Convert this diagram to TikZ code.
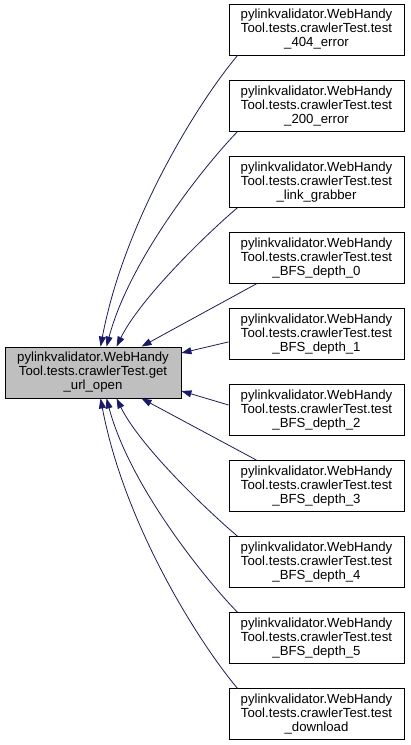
\documentclass[tikz,border=0pt]{standalone}
\usepackage{fontspec}
\setmainfont{Liberation Sans}
\usetikzlibrary{arrows.meta,positioning}
\definecolor{callcolor}{RGB}{25,25,112}
\definecolor{boxgray}{RGB}{191,191,191}

\begin{document}
\begin{tikzpicture}[
			x=1pt,y=1pt,
			testbox/.style={
				draw=black,
				line width=0.9pt,
				fill=white,
				align=center,
				minimum width=175pt,
				minimum height=51pt,
				inner sep=0pt,
				font=\fontsize{13.2}{14}\selectfont
			},
			callarrow/.style={
				-{Triangle[length=10pt,width=7pt]},
				draw=callcolor,
				color=callcolor,
				line width=0.8pt
			}
			]
			\useasboundingbox (0,0) rectangle (411,-745);
			
			% Called function
			\node[testbox,fill=boxgray,minimum width=176pt] (geturl) at (93,-372.5) {
				pylinkvalidator.WebHandy\\
				Tool.tests.crawlerTest.get\\
				\_url\_open
			};
			
			% Callers
			\node[testbox] (t404) at (316.5,-29.5) {
				pylinkvalidator.WebHandy\\
				Tool.tests.crawlerTest.test\\
				\_404\_error
			};
			
			\node[testbox] (t200) at (316.5,-105.6) {
				pylinkvalidator.WebHandy\\
				Tool.tests.crawlerTest.test\\
				\_200\_error
			};
			
			\node[testbox] (tlink) at (316.5,-181.7) {
				pylinkvalidator.WebHandy\\
				Tool.tests.crawlerTest.test\\
				\_link\_grabber
			};
			
			\node[testbox] (tbfs0) at (316.5,-257.8) {
				pylinkvalidator.WebHandy\\
				Tool.tests.crawlerTest.test\\
				\_BFS\_depth\_0
			};
			
			\node[testbox] (tbfs1) at (316.5,-333.9) {
				pylinkvalidator.WebHandy\\
				Tool.tests.crawlerTest.test\\
				\_BFS\_depth\_1
			};
			
			\node[testbox] (tbfs2) at (316.5,-410) {
				pylinkvalidator.WebHandy\\
				Tool.tests.crawlerTest.test\\
				\_BFS\_depth\_2
			};
			
			\node[testbox] (tbfs3) at (316.5,-486.1) {
				pylinkvalidator.WebHandy\\
				Tool.tests.crawlerTest.test\\
				\_BFS\_depth\_3
			};
			
			\node[testbox] (tbfs4) at (316.5,-562.2) {
				pylinkvalidator.WebHandy\\
				Tool.tests.crawlerTest.test\\
				\_BFS\_depth\_4
			};
			
			\node[testbox] (tbfs5) at (316.5,-638.3) {
				pylinkvalidator.WebHandy\\
				Tool.tests.crawlerTest.test\\
				\_BFS\_depth\_5
			};
			
			\node[testbox] (tdownload) at (316.5,-714.4) {
				pylinkvalidator.WebHandy\\
				Tool.tests.crawlerTest.test\\
				\_download
			};
			
			% Calls from above
			\draw[callarrow]
			([xshift=9pt]t404.south west) .. controls +(-38,-45) and +(24,127) ..
			([xshift=96pt]geturl.north west);
			
			\draw[callarrow]
			([xshift=9pt]t200.south west) .. controls +(-33,-34) and +(23,87) ..
			([xshift=102pt]geturl.north west);
			
			\draw[callarrow]
			([xshift=9pt]tlink.south west) .. controls +(-33,-28) and +(23,47) ..
			([xshift=112pt]geturl.north west);
			
			\draw[callarrow]
			([xshift=28pt]tbfs0.south west) --
			([xshift=137pt]geturl.north west);
			
			% Calls from the side
			\draw[callarrow]
			([yshift=-8pt]tbfs1.west) --
			([yshift=19.5pt]geturl.east);
			
			\draw[callarrow]
			([yshift=5pt]tbfs2.west) --
			([yshift=-18.5pt]geturl.east);
			
			% Calls from below
			\draw[callarrow]
			([xshift=28pt]tbfs3.north west) --
			([xshift=137pt]geturl.south west);
			
			\draw[callarrow]
			([xshift=9pt]tbfs4.north west) .. controls +(-33,28) and +(23,-47) ..
			([xshift=112pt]geturl.south west);
			
			\draw[callarrow]
			([xshift=9pt]tbfs5.north west) .. controls +(-33,34) and +(23,-87) ..
			([xshift=102pt]geturl.south west);
			
			\draw[callarrow]
			([xshift=9pt]tdownload.north west) .. controls +(-38,45) and +(24,-127) ..
			([xshift=96pt]geturl.south west);
			
		\end{tikzpicture}
\end{document}
